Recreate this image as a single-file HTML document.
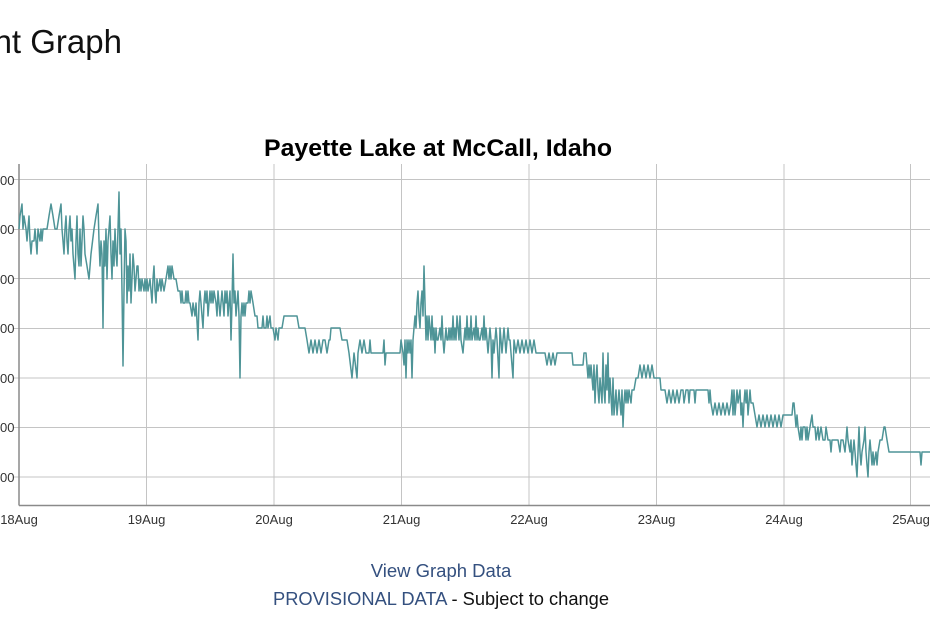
<!DOCTYPE html>
<html>
<head>
<meta charset="utf-8">
<style>
html,body{margin:0;padding:0;background:#fff;}
svg{display:block;}
text{font-family:"Liberation Sans",Arial,sans-serif;}
</style>
</head>
<body>
<svg width="930" height="620" viewBox="0 0 930 620" xmlns="http://www.w3.org/2000/svg">
<rect width="930" height="620" fill="#fff"/>
<text x="122" y="53" font-size="33" fill="#111" text-anchor="end">Current Graph</text>
<text x="264" y="156" font-size="24" font-weight="bold" fill="#000" textLength="348" lengthAdjust="spacingAndGlyphs">Payette Lake at McCall, Idaho</text>

<g stroke="#c4c4c4" stroke-width="1" fill="none">
<line x1="14" y1="179.5" x2="930" y2="179.5"/>
<line x1="14" y1="229.5" x2="930" y2="229.5"/>
<line x1="14" y1="278.5" x2="930" y2="278.5"/>
<line x1="14" y1="328.5" x2="930" y2="328.5"/>
<line x1="14" y1="378" x2="930" y2="378"/>
<line x1="14" y1="427.5" x2="930" y2="427.5"/>
<line x1="14" y1="477" x2="930" y2="477"/>
<line x1="146.5" y1="164" x2="146.5" y2="505"/>
<line x1="274" y1="164" x2="274" y2="505"/>
<line x1="401.5" y1="164" x2="401.5" y2="505"/>
<line x1="529" y1="164" x2="529" y2="505"/>
<line x1="656.5" y1="164" x2="656.5" y2="505"/>
<line x1="784" y1="164" x2="784" y2="505"/>
<line x1="910.5" y1="164" x2="910.5" y2="505"/>
</g>
<g stroke="#8a8a8a" stroke-width="1.5" fill="none">
<line x1="19" y1="164" x2="19" y2="505.5"/>
<line x1="19" y1="505.5" x2="930" y2="505.5"/>
</g>

<g font-size="13" fill="#333" text-anchor="end">
<text x="14.5" y="185">4.00</text>
<text x="14.5" y="234">4.00</text>
<text x="14.5" y="284">4.00</text>
<text x="14.5" y="333">4.00</text>
<text x="14.5" y="383">4.00</text>
<text x="14.5" y="432">4.00</text>
<text x="14.5" y="482">4.00</text>
</g>
<g font-size="13" fill="#333" text-anchor="middle">
<text x="19" y="524">18Aug</text>
<text x="146.5" y="524">19Aug</text>
<text x="274" y="524">20Aug</text>
<text x="401.5" y="524">21Aug</text>
<text x="529" y="524">22Aug</text>
<text x="656.5" y="524">23Aug</text>
<text x="784" y="524">24Aug</text>
<text x="911" y="524">25Aug</text>
</g>

<polyline fill="none" stroke="#4e9497" stroke-width="1.5" stroke-linejoin="round" points="19,229 20,216 22,204 23,229 24,216 26,229 27,241 29,216 30,241 31,254 32,241 34,241 35,229 36,241 37,254 38,229 40,241 41,229 42,241 43,229 45,229 47,229 49,216 51,204 53,216 55,229 57,229 59,216 61,204 62,229 63,241 64,254 65,229 66,216 67,241 68,254 69,229 70,216 71,241 72,229 73,254 75,279 76,241 77,216 78,254 79,266 80,229 81,266 82,241 83,216 84,229 85,254 87,266 89,279 91,254 94,229 96,216 98,204 99,241 100,266 101,241 102,254 103,328 104,241 105,266 106,229 107,279 108,241 109,229 110,216 111,254 112,279 113,241 114,266 115,229 116,254 117,266 118,229 119,192 120,254 121,229 122,291 123,366 124,291 125,229 126,241 127,303 128,266 129,291 130,254 131,303 132,279 133,254 134,266 135,291 136,279 137,266 138,266 139,291 140,279 141,291 142,279 144,291 145,279 146,291 147,279 148,291 150,279 151,291 152,303 153,279 154,266 155,291 156,303 157,279 158,291 160,279 161,291 162,279 164,291 166,279 168,266 169,279 170,266 171,279 172,266 174,279 176,279 178,291 180,291 181,303 182,291 183,303 185,303 186,291 187,303 188,291 189,303 190,303 192,316 193,303 195,316 196,303 198,340 199,303 200,291 201,303 202,316 203,328 204,303 205,291 206,303 207,291 208,316 209,303 210,291 211,303 212,291 213,303 214,291 216,303 217,316 218,291 220,316 221,303 222,291 223,303 224,316 225,291 226,303 227,291 228,316 229,303 230,291 231,340 232,303 233,254 234,303 235,291 236,316 237,303 238,291 239,316 240,378 241,316 242,303 243,316 244,303 245,316 246,303 248,303 249,291 250,303 251,291 253,303 255,316 257,316 258,328 262,328 263,316 264,328 266,328 267,316 268,328 270,316 271,328 273,328 275,340 276,328 278,340 279,328 282,328 284,316 297,316 299,328 305,328 307,340 309,353 311,340 313,353 315,340 317,353 319,340 321,353 323,340 325,340 327,353 329,340 330,340 331,328 340,328 342,340 347,340 349,353 352,378 354,353 357,378 358,353 360,340 362,353 364,340 366,353 369,353 370,340 371,353 374,353 383,353 384,340 385,365 386,353 400,353 401,340 403,353 404,365 405,340 406,378 407,340 408,353 409,340 410,353 411,340 412,378 413,340 414,328 415,316 416,328 417,303 418,291 419,316 420,328 421,303 422,291 423,316 424,266 425,303 426,340 427,316 428,340 429,316 430,328 431,340 432,316 433,340 434,328 435,353 436,328 437,340 438,340 440,328 441,340 442,316 443,340 444,353 445,340 446,328 447,340 448,340 449,328 450,340 451,328 452,340 453,316 454,340 455,328 456,340 457,316 458,328 459,340 460,316 461,340 463,353 464,340 465,328 466,340 467,316 468,340 469,328 470,340 471,316 472,340 474,328 475,340 476,316 477,340 478,328 479,340 480,340 482,328 483,340 484,316 485,340 486,328 487,340 488,353 489,340 490,328 491,340 492,378 493,340 494,353 495,340 496,328 497,340 499,378 500,328 501,340 502,353 503,340 504,328 505,340 506,353 507,340 508,328 509,340 510,340 511,353 513,378 514,340 516,353 518,340 520,353 522,340 524,353 526,340 528,353 530,340 532,353 534,340 536,353 545,353 547,365 549,353 551,365 553,353 555,365 557,353 572,353 573,365 583,365 584,353 586,353 588,378 589,365 590,378 591,365 592,378 593,390 594,365 595,403 596,378 597,365 598,390 599,403 600,378 601,390 602,403 603,353 604,390 605,403 606,365 607,390 608,353 609,403 610,378 612,415 613,378 614,415 615,403 616,390 617,415 618,403 619,390 620,403 621,415 622,390 623,427 624,403 625,390 626,403 627,390 628,403 629,390 631,403 632,390 634,390 636,378 638,378 640,365 642,378 644,365 646,378 648,365 650,378 652,365 654,378 660,378 661,390 665,390 667,403 669,390 671,403 673,390 675,403 677,390 679,403 681,390 683,390 684,403 686,390 688,390 689,403 690,390 694,390 695,403 696,390 708,390 709,403 710,390 711,403 713,415 715,403 717,415 719,403 721,415 723,403 725,415 727,403 729,415 731,403 732,390 733,415 734,390 735,415 736,403 737,390 738,403 740,390 741,415 742,403 743,427 744,403 745,390 746,403 747,390 748,415 749,403 750,390 751,403 753,403 755,415 757,427 759,415 761,427 763,415 765,427 767,415 769,427 771,415 773,427 775,415 777,427 779,415 781,427 783,415 786,415 792,415 793,403 794,403 795,415 796,427 797,415 798,427 800,440 801,427 802,440 803,427 805,427 806,440 807,427 808,440 810,427 812,415 813,427 815,427 816,440 818,427 819,440 821,427 823,440 825,440 826,427 828,440 830,440 831,452 832,440 838,440 840,452 841,440 843,440 845,452 846,440 847,427 848,440 850,452 851,440 852,465 853,452 854,440 855,452 856,465 857,477 858,452 859,427 860,452 861,465 862,452 864,440 865,427 866,452 867,465 868,477 869,452 870,440 871,452 872,465 873,452 874,465 876,452 877,465 878,452 880,440 882,440 884,427 885,427 887,440 889,452 920,452 921,465 922,452 930,452"/>

<text x="441" y="577" font-size="18.5" fill="#34507f" text-anchor="middle">View Graph Data</text>
<text x="441" y="605" font-size="18.3" text-anchor="middle"><tspan fill="#34507f">PROVISIONAL DATA</tspan><tspan fill="#111"> - Subject to change</tspan></text>
</svg>
</body>
</html>
